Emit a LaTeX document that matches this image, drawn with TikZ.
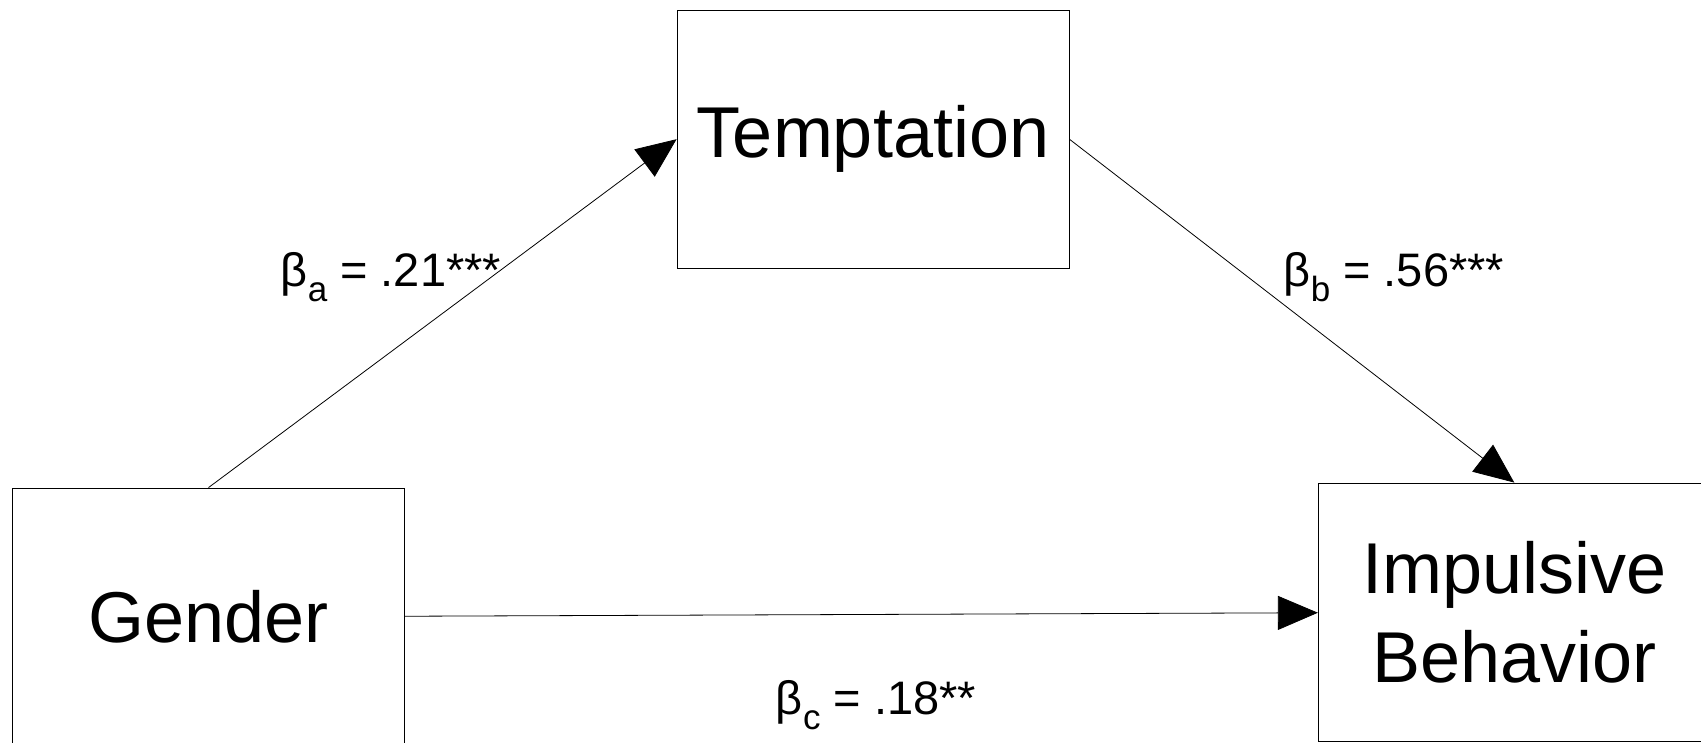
\documentclass[tikz,border=0pt]{standalone}
\usepackage{fontspec}
\setmainfont{Liberation Sans}
\usetikzlibrary{arrows.meta,positioning}
\newcommand{\coefsub}[1]{\raisebox{-15pt}{\fontsize{35}{38}\selectfont #1}}

\begin{document}
\begin{tikzpicture}[
  x=1pt, y=1pt,
  var/.style={draw, line width=0.8pt, minimum width=392pt, minimum height=258pt, inner sep=0pt, align=center, font={\fontsize{72}{89}\selectfont}},
  coef/.style={anchor=base, inner sep=0pt, font={\fontsize{47}{56}\selectfont}},
  arr/.style={-{Triangle[length=40pt, width=34pt]}, line width=0.8pt}
]
\useasboundingbox (0,0) rectangle (1701,743);

\node[var] (gender) at (208.5,126) {Gender};
\node[var, above=219pt of gender, xshift=664.5pt] (temptation) {Temptation};
\node[var, right=913pt of gender, yshift=5pt] (impulsive) {Impulsive\\Behavior};

% path coefficients
\node[coef] (coefa) at (391,456) {β\coefsub{a} = .21***};
\node[coef] (coefb) at (1394,456) {β\coefsub{b} = .56***};
\node[coef] (coefc) at (876,28) {β\coefsub{c} = .18**};

\draw[arr] (gender.north) -- (temptation.west);
\draw[arr] (temptation.east) -- (impulsive.north);
\draw[arr] (gender) -- (impulsive);
\end{tikzpicture}
\end{document}
